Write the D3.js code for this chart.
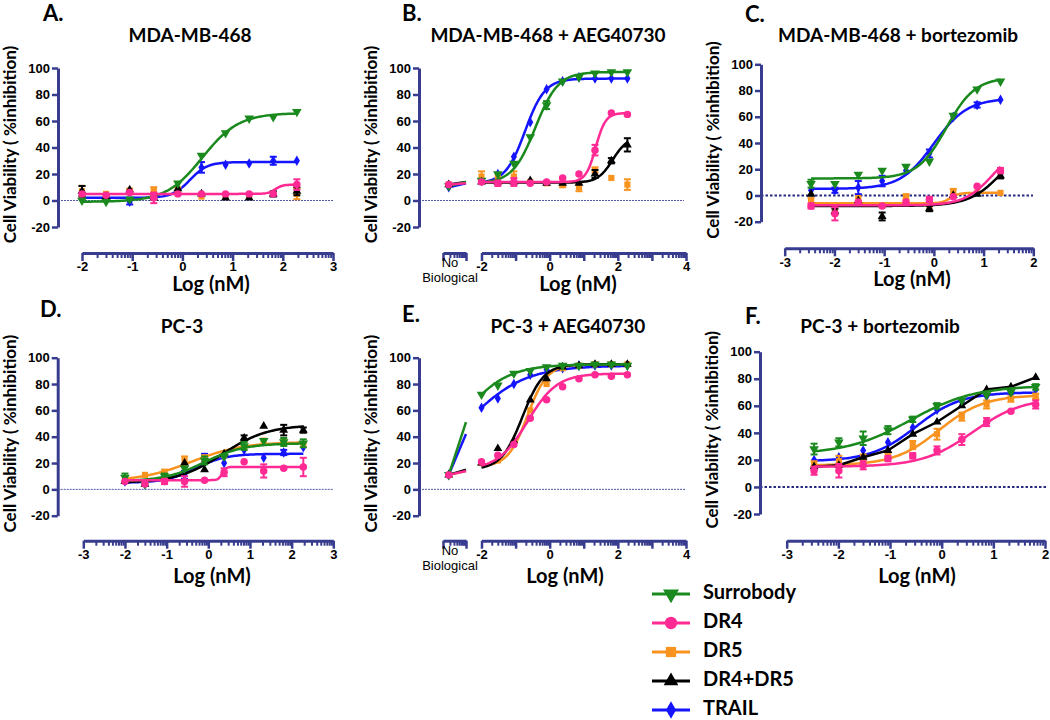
<!DOCTYPE html>
<html>
<head>
<meta charset="utf-8">
<script src="https://cdn.jsdelivr.net/npm/d3@7"></script>
<style>
  body { margin: 0; background: #fff; }
  .chart svg text { font-family: Lato, "Open Sans", sans-serif; font-weight: bold; fill: #000; }
  .chart svg .nobio { font-family: "Liberation Sans", Arial, sans-serif; font-weight: normal; font-size: 13px; }
</style>
</head>
<body>
<div class="chart"></div>
<script>
// Dose response panels (Cell viability % inhibition vs Log nM)

var seriesNames = ["Surrobody", "DR4", "DR5", "DR4+DR5", "TRAIL"];
var seriesColors = ["#1b8a1e", "#ff2a94", "#f7931e", "#000000", "#1414ff"];

// doses (log nM)
var dose10 = [-2, -1.52, -1.05, -0.57, -0.09, 0.38, 0.86, 1.33, 1.81, 2.28];
var doseC = [-2.47, -1.99, -1.52, -1.04, -0.56, -0.09, 0.39, 0.87, 1.34];
var doseF = [-2.47, -1.99, -1.52, -1.04, -0.56, -0.09, 0.39, 0.87, 1.34, 1.82];

// series order: Surrobody, DR4, DR5, DR4+DR5, TRAIL
var valuesA = [
  [0, -1, 1, 3, 13, 34, 51, 62, 63, 67],
  [5, 4, 6, 2, 5, 5, 5, 5, 5, 12],
  [7, 5, 7, 8, 8, 3, 4, 4, 5, 5],
  [7, 3, 8, 2, 9, 5, 2, 2, 5, 7],
  [1, 2, -1, 3, 7, 25, 27, 28, 30, 30]
];
var errorsA = [
  [0, 0, 0, 0, 0, 0, 0, 0, 0, 0],
  [0, 0, 0, 4, 0, 0, 0, 0, 0, 4],
  [4, 0, 2, 2, 2, 0, 0, 0, 0, 4],
  [4, 0, 0, 0, 0, 0, 0, 0, 2, 3],
  [0, 0, 2, 0, 0, 4, 0, 0, 3, 0]
];
// 4PL fits: [bottom, top, logEC50, hill]
var fitsA = [[-1, 66, 0.4, 1.2], [5, 12, 1.85, 6], null, null, [2, 29, 0.15, 2.5]];

var valuesB = [
  [15, 20, 28, 48, 72, 90, 93, 96, 97, 97],
  [14, 13, 14, 13, 14, 17, 20, 38, 66, 65],
  [18, 18, 18, 14, 13, 12, 10, 23, 17, 12],
  [14, 14, 14, 15, 13, 13, 13, 20, 30, 42],
  [15, 20, 33, 59, 84, 90, 93, 92, 92, 92]
];
var errorsB = [
  [0, 0, 0, 0, 3, 0, 0, 0, 0, 0],
  [0, 2, 3, 0, 0, 0, 0, 4, 0, 0],
  [4, 0, 4, 0, 0, 2, 3, 2, 0, 4],
  [0, 0, 0, 0, 0, 0, 0, 3, 2, 5],
  [0, 0, 0, 0, 0, 0, 0, 0, 0, 0]
];
var fitsB = [[13, 97, -0.42, 1.3], [14, 66, 1.35, 3], null, [13.5, 48, 1.85, 2], [13, 92, -0.72, 1.5]];
var noBioB = [11, 12, 12, 12, 10];
var noBioEndB = [14, 13, null, 14, 13];

var valuesC = [
  [9, 9, 16, 19, 22, 26, 61, 81, 87],
  [-8, -14, -5, -8, -5, -3, -1, 7, 19],
  [-5, -10, -2, -8, -1, -9, 3, 2, 2],
  [1, -12, -4, -16, -6, -10, 0, 1, 15],
  [4, 4, 6, 11, 19, 32, 60, 69, 73]
];
var errorsC = [
  [3, 0, 0, 0, 0, 0, 0, 0, 0],
  [2, 5, 0, 0, 0, 2, 0, 0, 2],
  [3, 0, 0, 0, 2, 0, 2, 0, 0],
  [0, 2, 0, 3, 0, 2, 0, 0, 2],
  [0, 2, 5, 4, 0, 3, 0, 2, 0]
];
var fitsC = [[13, 90, 0.25, 1.5], [-7.5, 40, 1.2, 1.5], [-6, 2, 0.33, 5], [-8, 45, 1.4, 1.3], [5, 74, 0.0, 1.3]];

var valuesD = [
  [9, 4, 10, 16, 22, 25, 33, 37, 36, 35],
  [6, 4, 6, 6, 7, 13, 21, 14, 16, 17],
  [8, 11, 13, 22, 23, 26, 32, 37, 36, 34],
  [6, 4, 9, 20, 15, 27, 39, 48, 45, 45],
  [6, 4, 9, 11, 24, 20, 30, 24, 28, 32]
];
var errorsD = [
  [3, 0, 2, 0, 3, 0, 3, 0, 3, 3],
  [0, 0, 2, 4, 0, 3, 0, 5, 0, 7],
  [0, 0, 2, 3, 3, 0, 0, 0, 0, 0],
  [0, 0, 0, 0, 0, 0, 2, 0, 4, 2],
  [0, 0, 2, 3, 3, 0, 0, 0, 2, 0]
];
var fitsD = [[6, 35, -0.1, 0.9], [7, 17, 0.33, 10], [6, 36, -0.4, 0.7], [5, 49, 0.35, 0.8], [5, 27, -0.3, 1.2]];

var valuesE = [
  [72, 79, 88, 90, 93, 94, 94, 95, 95, 94],
  [21, 26, 34, 54, 68, 78, 84, 87, 86, 87],
  [20, 22, 35, 60, 80, 92, 94, 95, 95, 95],
  [20, 31, 37, 68, 84, 93, 94, 95, 95, 95],
  [62, 69, 80, 87, 91, 92, 94, 94, 94, 94]
];
var errorsE = [
  [0, 0, 0, 0, 0, 0, 0, 0, 0, 0],
  [0, 0, 0, 0, 0, 0, 0, 0, 0, 0],
  [0, 0, 0, 0, 0, 0, 0, 0, 0, 0],
  [0, 0, 0, 0, 0, 0, 0, 0, 0, 0],
  [0, 0, 0, 0, 0, 0, 0, 0, 0, 0]
];
var fitsE = [[12, 95, -2.64, 0.65], [15, 88, -0.65, 1.0], [17, 95, -0.65, 1.5], [15, 95, -0.8, 1.4], [12, 94, -2.375, 0.52]];
var noBioE = [11, 11, 11, 11, 11];
var noBioEndE = [51, 14, 14, 15, 42];

var valuesF = [
  [28, 33, 36, 42, 50, 60, 64, 68, 70, 74],
  [12, 12, 16, 21, 23, 27, 35, 48, 56, 61],
  [17, 19, 22, 23, 31, 39, 52, 61, 65, 67],
  [15, 16, 22, 27, 39, 48, 60, 72, 74, 81],
  [20, 22, 27, 33, 44, 57, 63, 67, 69, 72]
];
var errorsF = [
  [4, 3, 5, 3, 2, 2, 0, 0, 0, 2],
  [3, 5, 3, 2, 2, 3, 4, 3, 0, 3],
  [2, 4, 2, 2, 3, 4, 3, 3, 2, 2],
  [0, 0, 0, 0, 0, 0, 0, 0, 0, 0],
  [0, 0, 0, 0, 0, 0, 0, 0, 0, 0]
];
var fitsF = [[24, 75, -0.6, 0.7], [15, 66, 0.6, 0.9], [16, 68, -0.05, 1.0], null, [19, 70, -0.5, 1.0]];
var joinedF = [3]; // drawn point to point

var yTicks = [-20, 0, 20, 40, 60, 80, 100];

/////////////////////////////////////////////////////////////
var axisColor = "#383c8e";
var drawOrder = [4, 2, 3, 0, 1];

var svg = d3.select(".chart").append("svg")
  .attr("width", 1050)
  .attr("height", 720);

function symbolPath(i, size) {
  var types = [d3.symbolTriangle, d3.symbolCircle, d3.symbolSquare, d3.symbolTriangle, d3.symbolDiamond];
  var sizes = [1.0, 1.1, 0.95, 0.85, 0.8];
  return d3.symbol().type(types[i]).size(size * sizes[i])();
}
function symbolTransform(i, cx, cy) {
  return "translate(" + cx + "," + cy + ")" + (i == 0 ? " rotate(180)" : "");
}

function logistic(f, x) {
  return f[0] + (f[1] - f[0]) / (1 + Math.pow(10, f[3] * (f[2] - x)));
}

var panels = [
  { letter: "A.", title: "MDA-MB-468", dose: dose10, values: valuesA, errors: errorsA, fits: fitsA,
    yAxisX: 58, yTop: 68, yBottom: 227, xDomain: [-2, 3], xRange: [82, 333], xAxisY: 253, labelStep: 1,
    zeroEnd: 333, zeroBold: false, letterXY: [43, 15], titleXY: [190, 37], logXY: [211, 286] },
  { letter: "B.", title: "MDA-MB-468 + AEG40730", dose: dose10, values: valuesB, errors: errorsB, fits: fitsB,
    noBio: noBioB, noBioEnd: noBioEndB,
    yAxisX: 419, yTop: 68, yBottom: 227, xDomain: [-2, 4], xRange: [481.5, 686], xAxisY: 253, labelStep: 2,
    zeroEnd: 684, zeroBold: false, letterXY: [402, 15], titleXY: [548, 37], logXY: [578, 286] },
  { letter: "C.", title: "MDA-MB-468 + bortezomib", dose: doseC, values: valuesC, errors: errorsC, fits: fitsC,
    yAxisX: 761, yTop: 64.3, yBottom: 221.7, xDomain: [-3, 2], xRange: [784.7, 1033.3], xAxisY: 248.3, labelStep: 1,
    zeroEnd: 1033, zeroBold: true, letterXY: [745, 16], titleXY: [898, 37], logXY: [912, 281] },
  { letter: "D.", title: "PC-3", dose: dose10, values: valuesD, errors: errorsD, fits: fitsD,
    yAxisX: 57.7, yTop: 357.7, yBottom: 515.7, xDomain: [-3, 3], xRange: [83.3, 333.3], xAxisY: 540.7, labelStep: 1,
    zeroEnd: 333, zeroBold: false, letterXY: [40, 311], titleXY: [182, 328], logXY: [212, 578] },
  { letter: "E.", title: "PC-3 + AEG40730", dose: dose10, values: valuesE, errors: errorsE, fits: fitsE,
    noBio: noBioE, noBioEnd: noBioEndE,
    yAxisX: 419, yTop: 357.7, yBottom: 515.7, xDomain: [-2, 4], xRange: [481.5, 686], xAxisY: 540.7, labelStep: 2,
    zeroEnd: 686, zeroBold: false, letterXY: [402, 316], titleXY: [568, 328], logXY: [565, 578] },
  { letter: "F.", title: "PC-3 + bortezomib", dose: doseF, values: valuesF, errors: errorsF, fits: fitsF, joined: joinedF,
    yAxisX: 760, yTop: 351.7, yBottom: 514, xDomain: [-3, 2], xRange: [786.7, 1045], xAxisY: 540.7, labelStep: 1,
    zeroEnd: 1047, zeroBold: true, letterXY: [745, 318], titleXY: [880, 328], logXY: [917, 578] }
];

function styleAxis(sel, width) {
  sel.select(".domain").attr("stroke", axisColor).attr("stroke-width", width);
  sel.selectAll(".tick line").attr("stroke", axisColor).attr("stroke-width", 2.5);
  sel.selectAll(".tick text")
    .style("font-family", "'Liberation Sans', Arial, sans-serif")
    .style("font-weight", "bold")
    .style("font-size", "13px");
}

function minorTicks(domain) {
  var out = [];
  for (var d = domain[0]; d < domain[1]; d++) {
    for (var k = 2; k <= 9; k++) out.push(d + Math.log10(k));
  }
  return out;
}

function drawPanel(p) {
  var g = svg.append("g");
  var y = d3.scaleLinear().domain([-20, 100]).range([p.yBottom, p.yTop]);
  var x = d3.scaleLinear().domain(p.xDomain).range(p.xRange);

  // letter + title
  g.append("text").attr("x", p.letterXY[0]).attr("y", p.letterXY[1])
    .attr("dominant-baseline", "middle").style("font-size", "22px").text(p.letter);
  g.append("text").attr("x", p.titleXY[0]).attr("y", p.titleXY[1])
    .attr("text-anchor", "middle").attr("dominant-baseline", "middle")
    .style("font-size", "19px").text(p.title);

  // zero line
  g.append("line")
    .attr("x1", p.yAxisX).attr("x2", p.zeroEnd)
    .attr("y1", y(0)).attr("y2", y(0))
    .attr("stroke", p.zeroBold ? "#262a80" : "#5558a8")
    .attr("stroke-width", p.zeroBold ? 2 : 1)
    .attr("stroke-dasharray", p.zeroBold ? "2.5,2" : "2,1");

  // y axis
  var yAxis = g.append("g")
    .attr("transform", "translate(" + p.yAxisX + ",0)")
    .call(d3.axisLeft(y).tickValues(yTicks).tickSize(6).tickSizeOuter(0).tickPadding(2)
      .tickFormat(function (d) { return String(d); }));
  styleAxis(yAxis, 3);

  // y label
  g.append("text")
    .attr("transform", "translate(" + (p.yAxisX - 46) + "," + ((p.yTop + p.yBottom) / 2 - 3) + ") rotate(-90)")
    .attr("text-anchor", "middle").attr("dominant-baseline", "middle")
    .style("font-size", "17px")
    .text("Cell Viability ( %inhibition)");

  // x axis (major + minor ticks)
  var majors = d3.range(p.xDomain[0], p.xDomain[1] + 1);
  var xMinor = g.append("g")
    .attr("transform", "translate(0," + p.xAxisY + ")")
    .call(d3.axisBottom(x).tickValues(minorTicks(p.xDomain)).tickSize(5).tickSizeOuter(0).tickFormat(""));
  styleAxis(xMinor, 3);
  xMinor.selectAll(".tick line").attr("stroke-width", 2);
  var xAxis = g.append("g")
    .attr("transform", "translate(0," + p.xAxisY + ")")
    .call(d3.axisBottom(x).tickValues(majors).tickSize(8).tickSizeOuter(0).tickPadding(1)
      .tickFormat(function (d) { return (d - p.xDomain[0]) % p.labelStep == 0 ? String(d) : ""; }));
  styleAxis(xAxis, 3);
  xAxis.select(".domain").remove();

  g.append("text").attr("x", p.logXY[0]).attr("y", p.logXY[1])
    .attr("text-anchor", "middle").attr("dominant-baseline", "middle")
    .style("font-size", "20px").text("Log (nM)");

  // "No Biological" broken axis segment
  var xNB = null;
  if (p.noBio) {
    xNB = d3.scaleLinear().domain([-4, -3]).range([443, 466]);
    var nbAxis = g.append("g")
      .attr("transform", "translate(0," + p.xAxisY + ")")
      .call(d3.axisBottom(xNB).tickValues(minorTicks([-4, -3])).tickSize(5).tickSizeOuter(0).tickFormat(""));
    styleAxis(nbAxis, 3);
    nbAxis.selectAll(".tick line").attr("stroke-width", 2);
    var nbMaj = g.append("g")
      .attr("transform", "translate(0," + p.xAxisY + ")")
      .call(d3.axisBottom(xNB).tickValues([-4, -3]).tickSize(8).tickSizeOuter(0).tickFormat(""));
    styleAxis(nbMaj, 3);
    nbMaj.select(".domain").remove();
    g.append("text").attr("class", "nobio").attr("x", 450).attr("y", p.xAxisY + 11)
      .attr("text-anchor", "middle").attr("dominant-baseline", "middle").text("No");
    g.append("text").attr("class", "nobio").attr("x", 450).attr("y", p.xAxisY + 26)
      .attr("text-anchor", "middle").attr("dominant-baseline", "middle").text("Biological");
  }

  var line = d3.line().x(function (d) { return x(d[0]); }).y(function (d) { return y(d[1]); });

  drawOrder.forEach(function (i) {
    var color = seriesColors[i];
    var vals = p.values[i];
    var errs = p.errors[i];
    var pts = p.dose.map(function (d, j) { return [d, vals[j]]; });
    var sg = g.append("g");

    // fitted curve
    var f = p.fits[i];
    if (f) {
      var lo = p.dose[0], hi = p.dose[p.dose.length - 1];
      var curve = d3.range(0, 121).map(function (k) {
        var xv = lo + (hi - lo) * k / 120;
        return [xv, logistic(f, xv)];
      });
      sg.append("path").attr("d", line(curve))
        .attr("fill", "none").attr("stroke", color).attr("stroke-width", 2.5);
    } else if (p.joined && p.joined.indexOf(i) >= 0) {
      sg.append("path").attr("d", line(pts))
        .attr("fill", "none").attr("stroke", color).attr("stroke-width", 2.5);
    }

    // no biological control
    if (p.noBio) {
      if (p.noBioEnd[i] != null) {
        sg.append("line")
          .attr("x1", xNB(-3.75)).attr("y1", y(p.noBio[i]))
          .attr("x2", xNB(-3)).attr("y2", y(p.noBioEnd[i]))
          .attr("stroke", color).attr("stroke-width", 2.5);
      }
      sg.append("path").attr("d", symbolPath(i, 40))
        .attr("transform", symbolTransform(i, xNB(-3.75), y(p.noBio[i])))
        .attr("fill", color);
    }

    // error bars
    pts.forEach(function (pt, j) {
      if (!errs[j]) return;
      var cx = x(pt[0]), y1 = y(pt[1] - errs[j]), y2 = y(pt[1] + errs[j]);
      sg.append("line").attr("x1", cx).attr("x2", cx).attr("y1", y1).attr("y2", y2)
        .attr("stroke", color).attr("stroke-width", 2);
      [y1, y2].forEach(function (yy) {
        sg.append("line").attr("x1", cx - 3.5).attr("x2", cx + 3.5).attr("y1", yy).attr("y2", yy)
          .attr("stroke", color).attr("stroke-width", 2);
      });
    });

    // markers
    sg.selectAll("path.pt")
      .data(pts)
      .enter()
      .append("path")
      .attr("class", "pt")
      .attr("d", symbolPath(i, 40))
      .attr("transform", function (d) { return symbolTransform(i, x(d[0]), y(d[1])); })
      .attr("fill", color);
  });
}

panels.forEach(drawPanel);

// legend
var legendY = d3.scalePoint().domain(seriesNames).range([594, 710]);
var legend = svg.append("g");
seriesNames.forEach(function (name, i) {
  var ly = legendY(name);
  legend.append("line").attr("x1", 652).attr("x2", 690).attr("y1", ly).attr("y2", ly)
    .attr("stroke", seriesColors[i]).attr("stroke-width", 3);
  legend.append("path").attr("d", symbolPath(i, 110))
    .attr("transform", symbolTransform(i, 671, ly))
    .attr("fill", seriesColors[i]);
  legend.append("text").attr("x", 703).attr("y", ly)
    .attr("dominant-baseline", "middle")
    .style("font-size", "20px")
    .text(name);
});
</script>
</body>
</html>
